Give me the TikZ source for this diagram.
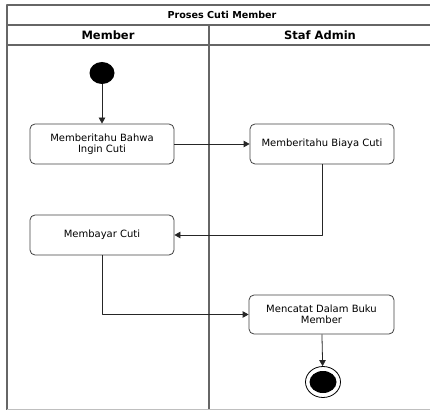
\documentclass[tikz,border=0pt]{standalone}
\usepackage{fontspec}
\setmainfont{DejaVu Sans}
\usetikzlibrary{arrows.meta,shapes.geometric}
\begin{document}
\begin{tikzpicture}[x=1pt,y=-1pt,line join=round,line width=.8pt,
		aksi/.style={draw=black!75,rounded corners=5pt,minimum width=144pt,minimum height=40pt,align=center,inner sep=2pt,font=\fontsize{10}{11}\selectfont},
		alur/.style={draw=black!85,-{Triangle[length=6pt,width=6.5pt]}},
		lajur/.style={draw=black!60,line width=1.2pt}]
				\useasboundingbox (0,0) rectangle (430,411);
				% kerangka swimlane
				\draw[lajur] (7,409.5) -- (7,5) -- (434,5) (7,25) -- (434,25) (7,45) -- (434,45) (209,25) -- (209,409.5);
				\draw[draw=black!25] (7,409.5) -- (434,409.5);
				\node[font=\bfseries\fontsize{9.6}{10}\selectfont] (judul) at (222,15) {Proses Cuti Member};
				\node[font=\bfseries\fontsize{11.5}{12}\selectfont] (lajurA) at (108,35) {Member};
				\node[font=\bfseries\fontsize{11.5}{12}\selectfont] (lajurB) at (320,35) {Staf Admin};
				% aktivitas
				\node[ellipse,fill=black,minimum width=25pt,minimum height=22pt,inner sep=0pt] (mulai) at (102,73) {};
				\node[aksi] (aksi1) at (102,144) {Memberitahu Bahwa\\Ingin Cuti};
				\node[aksi] (aksi2) at (322,144) {Memberitahu Biaya Cuti};
				\node[aksi] (aksi3) at (102,235) {Membayar Cuti};
				\node[aksi,minimum width=145pt,minimum height=39pt] (aksi4) at (321.5,314.5) {Mencatat Dalam Buku\\Member};
				\node[ellipse,draw=black,minimum width=35pt,minimum height=31pt,inner sep=0pt] (selesai) at (323,382) {};
				\node[ellipse,fill=black,minimum width=27pt,minimum height=22pt,inner sep=0pt] (selesaiIsi) at (selesai) {};
				% alur
				\draw[alur] (mulai) -- (aksi1);
				\draw[alur] (aksi1) -- (aksi2);
				\draw[alur] (aksi2.south) |- (aksi3.east);
				\draw[alur] (aksi3.south) |- (aksi4.west);
				\draw[alur] (aksi4) -- (selesai);
			\end{tikzpicture}
\end{document}
